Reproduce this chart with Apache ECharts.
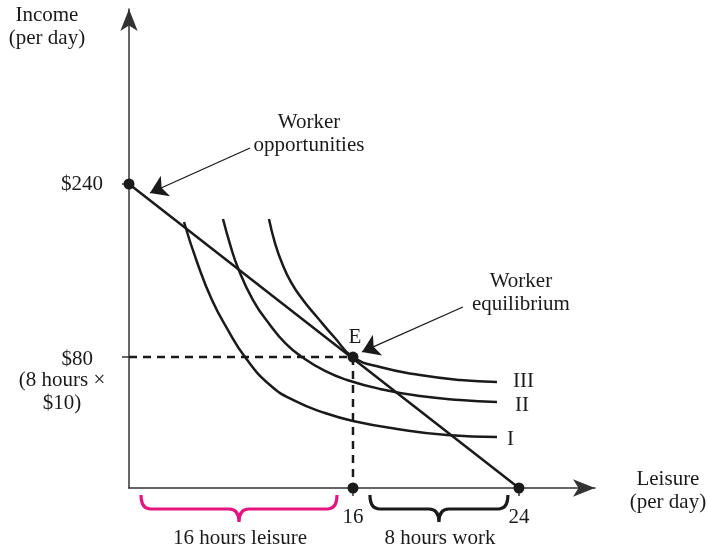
<!DOCTYPE html>
<html><head><meta charset="utf-8">
<script src="https://cdn.jsdelivr.net/npm/echarts@6/dist/echarts.min.js"></script>
<style>html,body{margin:0;padding:0;background:#fff}#c{width:708px;height:548px}</style>
</head><body><div id="c"></div>
<script>
// Schematic diagram units: x = leisure hours, y = income ($); figure is not drawn to scale
const xE = 13.785, yE = 103.4;          // equilibrium point E as drawn (16 h, $80)
const budgetLine = [[0, 240], [24, 0]];
const curveI = [[3.385,210.0],[4.185,178.4],[5.108,148.4],[6.092,124.7],[7.138,103.4],[8.677,81.3],[10.215,68.7],[12.062,59.2],[13.785,52.9],[16.492,46.6],[19.569,41.8],[22.646,40.3]];
const curveII = [[5.785,212.4],[6.215,192.6],[6.708,173.7],[7.631,148.4],[8.677,128.7],[9.662,113.7],[10.646,103.4],[12.062,92.4],[13.415,85.3],[15.446,78.2],[17.908,72.6],[20.369,69.5],[22.646,67.9]];
const curveIII = [[8.615,212.4],[8.985,193.4],[9.415,177.6],[9.969,162.6],[10.708,148.4],[11.569,135.0],[12.677,118.4],[13.785,103.4],[15.446,95.5],[17.908,89.2],[20.369,85.3],[22.646,83.7]];
const curveNames = ['I', 'II', 'III'];
const guideLine = [[0, yE], [xE, yE], [xE, 0]];
const dots = [[0, 240], [xE, yE], [xE, 0], [24, 0]];
const xTickValues = [xE, 24];
const xTickLabels = ['16', '24'];
const yTickValues = [240, yE];
const yTickLabels = ['$240', '$80'];
const braces = [[0.74, 12.8], [14.83, 23.32]];
const arrows = [
  [[7.45, 268.4], [1.29, 232.9]],
  [[20.55, 142.9], [14.34, 107.4]]
];
const annotations = [
  { name: 'Income\n(per day)', value: [-5.05, 363.9] },
  { name: '(8 hours \u00d7\n$10)', value: [-4.12, 75.8] },
  { name: 'Worker\nopportunities', value: [11.08, 279.5] },
  { name: 'Worker\nequilibrium', value: [24.12, 153.9] },
  { name: 'E', value: [13.91, 119.2] },
  { name: 'Leisure\n(per day)', value: [33.17, -2.37] },
  { name: '16 hours leisure', value: [6.83, -39.5] },
  { name: '8 hours work', value: [19.14, -39.5] }
];

const INK = '#1a1a1a';
const AX = '#333';
const FONT = "'Liberation Serif', 'Times New Roman', serif";
const chart = echarts.init(document.getElementById('c'));

function curveSeries(data, name, dist, off) {
  return {
    type: 'line', name: name, data: data, smooth: 0.5, symbol: 'none',
    lineStyle: { color: INK, width: 2.5 },
    endLabel: { show: true, formatter: name, distance: dist, offset: off,
      color: INK, fontFamily: FONT, fontSize: 21 },
    z: 3
  };
}

chart.setOption({
  animation: false,
  grid: { left: 129, top: 9, width: 466, height: 479 },
  xAxis: {
    type: 'value', min: 0, max: 28.68,
    splitLine: { show: false },
    axisLine: { symbol: ['none', 'arrow'], symbolSize: [13, 22], lineStyle: { color: AX, width: 1.5 } },
    axisTick: { customValues: xTickValues, length: 8, lineStyle: { color: AX, width: 1.5 } },
    axisLabel: { customValues: xTickValues, margin: 19,
      formatter: v => xTickLabels[xTickValues.indexOf(v)],
      color: INK, fontFamily: FONT, fontSize: 21 }
  },
  yAxis: {
    type: 'value', min: 0, max: 378.16,
    splitLine: { show: false },
    axisLine: { symbol: ['none', 'arrow'], symbolSize: [13, 22], lineStyle: { color: AX, width: 1.5 } },
    axisTick: { customValues: yTickValues, length: 7, lineStyle: { color: AX, width: 1.5 } },
    axisLabel: { customValues: yTickValues, margin: 26,
      formatter: v => { const s = yTickLabels[yTickValues.indexOf(v)]; return v === 240 ? s : '{p|' + s + '}'; },
      rich: { p: { padding: [4, 10, 0, 0], color: INK, fontFamily: FONT, fontSize: 21 } },
      color: INK, fontFamily: FONT, fontSize: 21 }
  },
  series: [
    { type: 'line', data: budgetLine, symbol: 'none', lineStyle: { color: INK, width: 2.5 }, z: 3 },
    curveSeries(curveI, curveNames[0], 10, [0, 3]),
    curveSeries(curveII, curveNames[1], 18, [0, 3]),
    curveSeries(curveIII, curveNames[2], 16, [0, 0]),
    { type: 'line', data: guideLine, symbol: 'none',
      lineStyle: { color: INK, width: 2.5, type: [8, 6] }, z: 2 },
    { type: 'scatter', data: dots, symbolSize: 11, itemStyle: { color: INK, opacity: 1 }, clip: false, z: 5 },
    { type: 'lines', coordinateSystem: 'cartesian2d', polyline: false,
      data: arrows.map(a => ({ coords: a })),
      symbol: ['none', 'arrow'], symbolSize: 17,
      lineStyle: { color: INK, width: 1.3, opacity: 1 }, z: 4 },
    { type: 'custom', data: braces, clip: false, z: 4,
      renderItem: function (params, api) {
        const p0 = api.coord([api.value(0), 0]);
        const p1 = api.coord([api.value(1), 0]);
        const top = p0[1] + 7, mid = p0[1] + 21, tip = p0[1] + 34;
        const xa = p0[0], xb = p1[0], xc = (xa + xb) / 2, r = 10;
        const d = `M${xa},${top} Q${xa},${mid} ${xa + r},${mid} L${xc - r},${mid} Q${xc},${mid} ${xc},${tip} Q${xc},${mid} ${xc + r},${mid} L${xb - r},${mid} Q${xb},${mid} ${xb},${top}`;
        return { type: 'path', shape: { pathData: d },
          style: { fill: 'none', stroke: params.dataIndex === 0 ? '#e4157f' : INK, lineWidth: 3.2 } };
      } },
    { type: 'scatter', data: annotations, symbolSize: 0, clip: false, z: 6,
      itemStyle: { opacity: 1 },
      label: { show: true, position: 'inside', formatter: '{b}', color: INK,
        fontFamily: FONT, fontSize: 21, lineHeight: 23, align: 'center', verticalAlign: 'middle' } }
  ]
});
</script></body></html>
